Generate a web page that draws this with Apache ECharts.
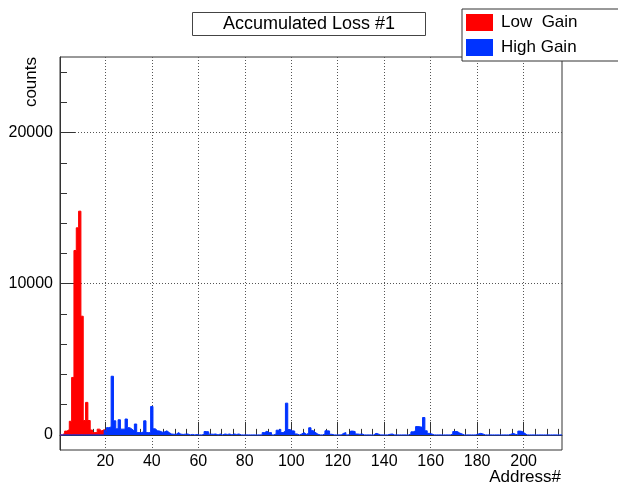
<!DOCTYPE html>
<html>
<head>
<meta charset="utf-8">
<script src="https://cdn.jsdelivr.net/npm/echarts@6/dist/echarts.min.js"></script>
<style>
  html, body { margin: 0; padding: 0; background: #fff; }
  #chart { width: 618px; height: 483px; }
</style>
</head>
<body>
<div id="chart"></div>
<script>
// histogram bins are centred on address 1..216
const addrMin = 0.5
const addrMax = 216.5

// Low Gain counts, bins 1..20 (rest empty)
const lowGain = [
  0, 100, 250, 350, 900, 3800, 12200, 13700, 14800, 7850,
  950, 2150, 950, 320, 150, 150, 380, 260, 350, 250
]

// High Gain counts, bins 1..216
const highGain = [
  0, 0, 0, 0, 0, 0, 0, 0, 0, 0,
  0, 0, 0, 0, 0, 0, 0, 0, 0, 300,
  480, 520, 3880, 930, 400, 1000, 380, 380, 1050, 480,
  380, 250, 720, 150, 150, 200, 930, 150, 150, 1880,
  400, 270, 250, 180, 200, 270, 150, 60, 40, 40,
  150, 50, 30, 50, 60, 0, 30, 0, 20, 0,
  0, 30, 220, 200, 50, 40, 60, 0, 60, 0,
  60, 30, 60, 0, 60, 30, 60, 0, 0, 0,
  0, 0, 0, 0, 0, 0, 0, 150, 240, 150,
  150, 0, 60, 310, 370, 150, 250, 2100, 350, 270,
  250, 60, 0, 60, 150, 40, 100, 470, 280, 150,
  40, 0, 0, 60, 270, 260, 40, 0, 0, 0,
  0, 100, 150, 0, 60, 250, 220, 60, 40, 60,
  0, 0, 0, 0, 0, 100, 60, 0, 0, 0,
  0, 40, 60, 0, 0, 0, 0, 0, 0, 0,
  60, 200, 270, 550, 530, 500, 1150, 270, 100, 60,
  0, 0, 0, 0, 0, 0, 0, 0, 60, 220,
  220, 120, 60, 0, 0, 0, 0, 0, 0, 60,
  100, 60, 0, 0, 0, 0, 0, 0, 0, 0,
  0, 0, 0, 40, 100, 40, 0, 250, 220, 100,
  0, 0, 0, 0, 0, 0, 0, 0, 0, 0,
  0, 0, 0, 0, 0, 0
]

const xLabels = [20, 40, 60, 80, 100, 120, 140, 160, 180, 200]
const yLabels = [0, 10000, 20000]

const font = 'Liberation Sans'

// minor ticks: every 5 on x, every 2000 on y
const xMinor = []
for (let v = 5; v < addrMax; v += 5) if (v % 20) xMinor.push(v)
const yMinor = []
for (let v = 2000; v < 25000; v += 2000) if (v % 10000) yMinor.push(v)

// turn bin contents into points at the low edge of each bin (step: 'end')
const toSteps = (vals) => {
  const pts = vals.map((v, i) => [i + 1 - 0.5, v])
  pts.push([vals.length + 0.5, vals[vals.length - 1]])
  return pts
}

const histSeries = (name, color, vals) => ({
  name,
  type: 'line',
  step: 'end',
  symbol: 'none',
  xAxisIndex: 0,
  yAxisIndex: 0,
  data: toSteps(vals),
  itemStyle: { color },
  lineStyle: { color, width: 1 },
  areaStyle: { color, opacity: 1 }
})

const chart = echarts.init(document.getElementById('chart'))
chart.setOption({
  animation: false,
  backgroundColor: '#fff',
  title: {
    text: 'Accumulated Loss #1',
    left: 'center',
    top: 12,
    padding: [3, 31],
    borderColor: '#444',
    borderWidth: 1,
    textStyle: { fontFamily: font, fontSize: 18, fontWeight: 'normal', color: '#000' }
  },
  legend: {
    orient: 'vertical',
    left: 462,
    top: 9,
    padding: [5, 60, 5, 4],
    itemGap: 8,
    itemWidth: 27,
    itemHeight: 17,
    icon: 'rect',
    backgroundColor: '#fff',
    borderColor: '#333',
    borderWidth: 1,
    textStyle: { fontFamily: font, fontSize: 17, color: '#000', padding: [0, 0, 0, 3] },
    data: ['Low  Gain', 'High Gain']
  },
  grid: {
    left: 60, right: 56, top: 57, bottom: 33,
    show: true, borderColor: '#333', borderWidth: 1
  },
  xAxis: [
    {
      type: 'value',
      position: 'bottom',
      min: addrMin,
      max: addrMax,
      axisLine: { lineStyle: { color: '#333' } },
      axisTick: { inside: true, length: 13, customValues: xLabels, lineStyle: { color: '#333' } },
      axisLabel: { customValues: xLabels, margin: 4, fontFamily: font, fontSize: 16, color: '#000' },
      splitLine: { show: true, lineStyle: { type: [1, 2], color: '#555' } }
    },
    {
      type: 'value',
      position: 'bottom',
      min: addrMin,
      max: addrMax,
      axisLine: { show: false },
      axisTick: { inside: true, length: 6, customValues: xMinor, lineStyle: { color: '#333' } },
      axisLabel: { show: false },
      splitLine: { show: false }
    }
  ],
  yAxis: [
    {
      type: 'value',
      position: 'left',
      min: -1000,
      max: 25000,
      axisLine: { show: true, lineStyle: { color: '#333' } },
      axisTick: { show: true, inside: true, length: 15, customValues: yLabels, lineStyle: { color: '#333' } },
      axisLabel: {
        customValues: yLabels, margin: 7, fontFamily: font, fontSize: 16, color: '#000',
        formatter: (v) => String(v)
      },
      splitLine: { show: true, lineStyle: { type: [1, 2], color: '#555' } }
    },
    {
      type: 'value',
      position: 'left',
      min: -1000,
      max: 25000,
      axisLine: { show: false },
      axisTick: { show: true, inside: true, length: 7, customValues: yMinor, lineStyle: { color: '#333' } },
      axisLabel: { show: false },
      splitLine: { show: false }
    }
  ],
  graphic: [
    {
      type: 'text', x: 31, y: 57, rotation: Math.PI / 2,
      style: { text: 'counts', align: 'right', verticalAlign: 'middle', font: '17px "Liberation Sans"', fill: '#000' }
    },
    {
      type: 'text', x: 561, y: 477,
      style: { text: 'Address#', align: 'right', verticalAlign: 'middle', font: '17px "Liberation Sans"', fill: '#000' }
    }
  ],
  series: [
    histSeries('Low  Gain', '#ff0000', lowGain),
    histSeries('High Gain', '#0033ff', highGain)
  ]
})
</script>
</body>
</html>
